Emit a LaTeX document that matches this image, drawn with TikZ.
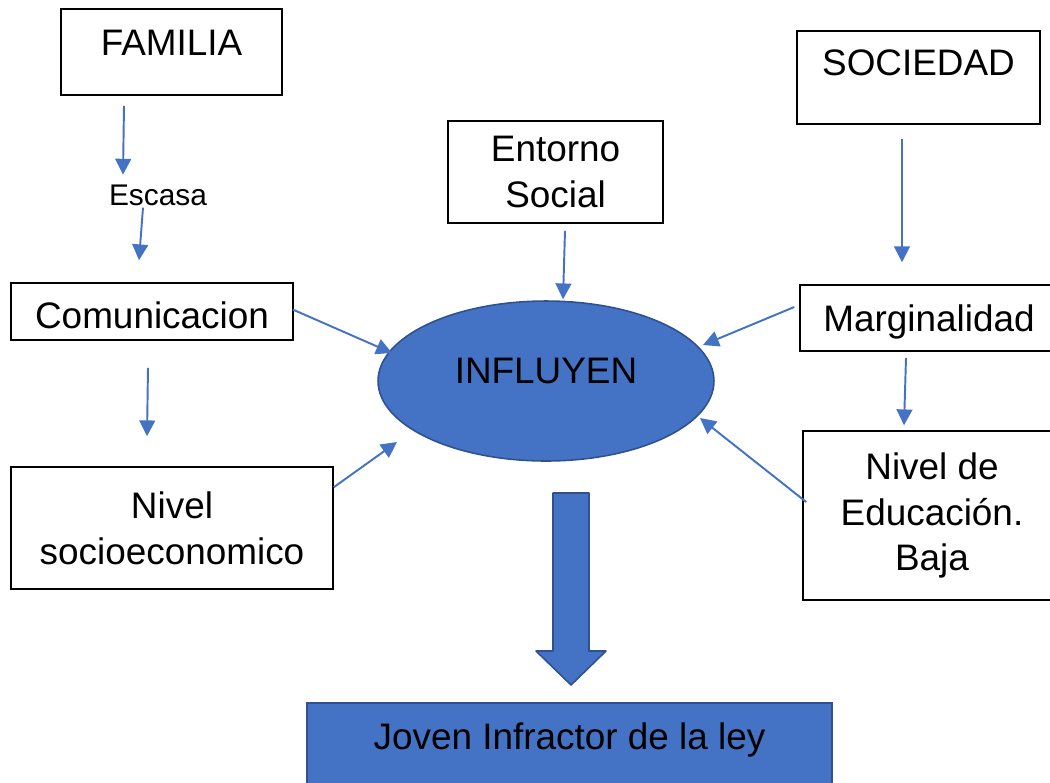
\documentclass[tikz,border=0pt]{standalone}
\usepackage{fontspec}
\setmainfont{Liberation Sans}
\usetikzlibrary{arrows.meta, shapes.geometric}
\definecolor{azul}{HTML}{4472C4}
\definecolor{azuloscuro}{HTML}{2F528F}
\tikzset{>={Triangle[length=9pt, width=9pt]}}
\tikzset{
  caja/.style={draw, line width=0.9pt, inner sep=0pt, font=\fontsize{21}{26}\selectfont},
  relleno/.style={draw=azuloscuro, fill=azul, line width=0.9pt},
  enlace/.style={->, azul, line width=1.1pt}
}

\begin{document}
\begin{tikzpicture}[x=0.02cm, y=-0.02cm]
\useasboundingbox (0,0) rectangle (1050,782);
% columna izquierda
\node[caja, minimum width=4.42cm, text height=0.92cm, text depth=0.8cm] (familia) at (171.5,52) {FAMILIA};
\node[font=\fontsize{17}{20}\selectfont, inner sep=0pt, anchor=base] (escasa) at (158,205) {Escasa};
\node[caja, minimum width=5.64cm, text height=0.9cm, text depth=0.24cm] (comunicacion) at (152,311.5) {Comunicacion};
\node[caja, align=center, minimum width=6.44cm, minimum height=2.44cm] (socio) at (172,528) {Nivel\\socioeconomico};
% centro
\node[caja, align=center, minimum width=4.3cm, minimum height=2.04cm] (entorno) at (555.5,172) {Entorno\\Social};
\node[ellipse, relleno, minimum width=6.72cm, minimum height=3.2cm, font=\fontsize{21}{26}\selectfont,
  text height=0.6cm, text depth=0.52cm] (influyen) at (546,381) {INFLUYEN};
\node[caja, relleno, minimum width=10.5cm, text height=0.92cm, text depth=1.02cm] (joven) at (569.5,751.5) {Joven Infractor de la ley};
% columna derecha
\node[caja, minimum width=4.86cm, text height=0.88cm, text depth=0.98cm] (sociedad) at (918.5,77.5) {SOCIEDAD};
\node[caja, minimum width=5.16cm, text height=0.92cm, text depth=0.4cm] (marginalidad) at (929,318) {Marginalidad};
\node[caja, align=center, minimum width=5.16cm, minimum height=3.38cm] (educacion) at (932,515.5) {Nivel de\\Educación.\\Baja};
% flechas
\draw[enlace] ([shift={(-47.5,10)}]familia.south) -- ([shift={(-35,-9.5)}]escasa.north);
\draw[enlace] ([shift={(-15,2)}]escasa.south) -- ([shift={(-13,-22)}]comunicacion.north);
\draw[enlace] ([shift={(-4,27)}]comunicacion.south) -- ([shift={(-25,-30)}]socio.north);
\draw[enlace] ([shift={(-1,-2)}]comunicacion.east) -- ([shift={(-154,-28)}]influyen.center);
\draw[enlace] ([shift={(0,21)}]socio.north east) -- ([shift={(-149,61)}]influyen.center);
\draw[enlace] ([shift={(9.5,7)}]entorno.south) -- ([shift={(17,-1)}]influyen.north);
\draw[enlace] ([shift={(-16.5,14)}]sociedad.south) -- ([shift={(-27,-22)}]marginalidad.north);
\draw[enlace] ([shift={(-5,-11)}]marginalidad.west) -- ([shift={(157,-36)}]influyen.center);
\draw[enlace] ([shift={(-23,6)}]marginalidad.south) -- ([shift={(-28,-5)}]educacion.north);
\draw[enlace] ([shift={(4,-13.5)}]educacion.west) -- ([shift={(154,37)}]influyen.center);
% flecha gruesa
\draw[relleno, line join=round] (553,493) -- (589,493) -- (589,651) -- (606,651) -- (571,685)
  -- (536,651) -- (553,651) -- cycle;
\end{tikzpicture}
\end{document}
